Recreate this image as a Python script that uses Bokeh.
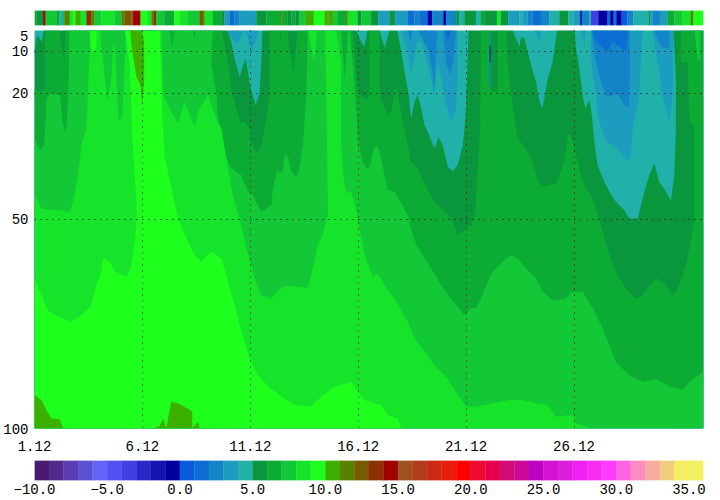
from bokeh.plotting import figure
from bokeh.layouts import column
from bokeh.models import Range1d, FixedTicker, LinearColorMapper, ColumnDataSource
from bokeh.embed import file_html
from bokeh.resources import INLINE

PAL = ["#4A1A6E","#502A8C","#5A3CB0","#5A50D0","#6464FA","#5050F0","#4040E0","#2828C8","#1414B0","#0000A0",
       "#0A5ADC","#0C6ED2","#1484C8","#1C9CBE","#20B2AA","#0A963C","#0CAC34","#12C836","#16E42A","#1EFF1E",
       "#3CB000","#5A8000","#785A00","#8C3000","#A00000","#A0501E","#B43C1E","#CC2814","#E61E0A","#FF0000",
       "#F00A32","#E6004C","#D20A78","#C80A96","#C000C0","#D214D2","#DC1EDC","#F020F0","#F82CF0","#FF3CFF",
       "#FF64E0","#FF8CC0","#F8ACA0","#F4CC80","#F2F060","#F2F060"]
FONT = "Liberation Mono"
FSIZE = "14px"

day_ticks = [1, 6, 11, 16, 21, 26]
day_labels = ["1.12", "6.12", "11.12", "16.12", "21.12", "26.12"]
depth_ticks = [5, 10, 20, 50, 100]
bar_ticks = [-10, -5, 0, 5, 10, 15, 20, 25, 30, 35]
bar_labels = ["\u221210.0", "\u22125.0", "0.0", "5.0", "10.0", "15.0", "20.0", "25.0", "30.0", "35.0"]

strip_start = [1.00,1.09,1.40,1.52,2.02,2.17,2.33,2.40,2.64,2.79,2.90,3.15,3.41,3.64,3.79,4.09,4.70,5.03,5.18,5.48,5.57,5.92,6.26,6.42,6.52,6.65,7.02,7.48,7.73,8.11,8.65,8.81,8.89,9.27,9.66,9.81,10.04,10.27,10.51,11.28,11.74,12.44,12.51,12.74,12.90,13.10,13.28,13.56,13.95,14.44,14.58,14.63,14.87,15.06,15.44,15.52,15.98,16.14,16.60,16.94,17.45,17.71,18.30,18.61,18.84,19.23,19.43,19.95,20.07,20.54,20.69,20.92,21.46,21.69,21.88,22.43,22.62,22.96,23.47,23.62,23.85,24.09,24.47,24.86,25.32,25.74,25.98,26.29,26.37,26.71,26.79,27.13,27.56,27.68,27.84,27.97,28.21,28.48,28.75,29.46,29.53,29.64,29.98,30.34,30.65,31.03,31.42,31.54]
strip_temp = [6,5,14,7,6,4,6,11,8,9,10,8,13,11,7,8,7,11,12,15,14,9,8,11,13,7,6,9,8,7,12,11,8,6,5,3,1,2,3,5,6,11,6,5,6,5,7,10,9,10,11,10,7,6,11,8,5,7,5,3,5,3,1,2,1,-1,2,-1,2,5,4,5,4,6,5,8,5,3,4,3,2,1,2,4,5,4,3,-1,2,4,-4,-1,1,-1,1,-1,0,2,4,5,3,2,3,6,7,8,11,9]

iso5_day = [1.00,1.12,1.34,1.43,9.94,10.12,10.27,10.51,10.66,10.78,10.89,11.05,11.25,11.43,11.51,11.56,15.91,16.06,16.26,16.37,16.42,16.99,17.22,17.45,17.81,17.99,18.15,18.33,18.45,18.61,18.76,18.92,19.07,19.23,19.46,19.56,19.72,19.92,20.15,20.38,20.61,20.85,21.00,21.11,23.16,23.47,23.55,23.70,24.01,24.24,24.40,24.52,24.63,24.78,25.01,25.21,26.02,26.09,26.25,26.40,26.52,26.71,26.83,26.94,27.09,27.40,27.64,27.94,28.33,28.56,28.95,29.10,29.26,29.49,29.72,29.95,30.26,30.49,30.65,30.72,30.72,30.61,32]
iso5_dep = [9.7,6.1,7.7,5,5,7.7,11.7,16.1,13.3,11.7,14.9,19.6,22.8,20.0,12.5,5,5,6.9,8.9,6.9,5,5,9.1,5,5,10.1,14.9,20.0,26.0,22.0,20.4,23.6,27.6,29.2,32.4,33.0,30.4,32.4,37.5,38.6,37.1,32.4,23.6,5,5,8.9,6.5,6.9,13.3,17.3,22.0,23.6,21.2,16.5,12.5,5,5,9.3,14.1,20.4,23.6,21.6,25.2,31.6,37.1,41.1,43.5,45.9,47.9,49.9,49.9,46.7,43.5,39.5,36.7,41.1,43.5,45.5,39.5,28.4,16.5,5,5]

iso6_day = [1.00,1.25,1.48,1.48,2.17,2.33,2.45,9.69,9.81,9.97,10.12,10.35,10.55,10.74,10.97,11.02,11.28,11.51,11.74,11.90,11.90,12.36,12.40,12.44,12.71,12.90,13.01,13.13,13.18,15.75,15.91,16.02,16.22,16.45,16.52,16.52,16.99,16.99,17.22,17.37,17.53,17.68,17.76,17.84,18.07,18.30,18.45,18.76,18.92,19.53,20.31,20.61,21.02,21.23,21.40,21.46,21.65,21.69,22.16,22.16,22.47,22.47,22.85,22.93,23.08,23.24,23.39,23.78,24.09,24.32,24.55,24.78,25.17,25.55,25.75,25.94,26.17,26.40,26.86,27.17,27.40,27.64,27.94,28.41,28.87,29.18,29.64,29.87,30.26,30.57,30.88,31.19,31.49,31.57,31.57,31.34,31.26,30.95,30.95,32]
iso6_dep = [18.8,19.6,18.8,5,5,11.9,5,5,8.5,12.5,18.8,23.6,27.2,26.8,28.4,31.6,34.4,32.4,26.0,19.6,5,5,8.5,5,5,11.9,14.9,8.5,5,5,16.5,19.6,21.2,21.4,19.6,5,5,20.0,23.6,25.2,24.4,19.6,18.1,20.4,26.8,32.4,36.3,37.9,39.9,45.9,49.9,53.8,52.3,51.5,49.1,45.1,28.4,5,5,19.6,19.6,5,5,12.5,20.4,26.0,30.8,33.2,36.3,40.7,42.3,41.9,41.5,36.3,29.2,31.6,36.3,41.1,45.1,49.9,54.6,58.6,62.6,66.6,69.0,68.2,65.0,64.2,65.8,68.2,65.8,61.0,53.1,50.7,27.6,26.8,12.5,12.5,5,5]

iso7_day = [1.00,1.25,1.45,1.56,1.71,2.17,2.33,2.45,2.53,2.59,2.62,7.27,7.37,7.50,8.33,8.41,8.48,9.27,9.19,9.43,9.50,9.58,9.73,9.89,10.12,10.58,10.89,11.12,11.51,11.74,11.97,12.05,12.23,12.51,12.59,12.74,12.90,13.13,13.28,13.44,13.59,13.67,15.21,15.37,15.52,15.60,15.75,15.91,15.98,16.22,16.37,16.52,16.68,16.83,16.99,17.22,17.37,17.68,17.91,18.30,18.45,18.69,19.38,19.84,20.31,20.92,21.23,21.46,21.69,21.93,22.23,22.70,23.08,23.39,23.78,24.24,24.55,25.01,25.63,25.86,26.40,26.86,27.33,27.94,28.56,29.18,29.80,30.41,31.03,31.49,32]
iso7_dep = [30.8,33.6,32.4,21.2,20.0,20.4,27.6,29.3,24.4,16.5,5,5,8.9,5,5,6.9,5,5,12.5,20.4,26.0,28.4,32.4,35.5,37.9,39.5,43.5,44.3,48.3,47.5,46.7,42.7,38.7,38.7,34.8,34.8,38.7,39.9,37.9,32.4,20.4,5,5,16.5,5,5,12.5,24.4,31.6,36.3,37.9,37.9,33.9,32.4,33.9,39.5,43.1,43.5,45.5,49.1,52.3,56.2,61.8,65.8,69.0,72.9,71.3,71.3,69.0,65.8,62.6,60.2,58.6,59.4,61.8,64.2,67.4,69.4,69.0,67.4,67.4,71.3,76.1,84.1,87.3,88.9,88.1,90.0,90.8,88.1,86.5]

iso8_day = [1.00,1.32,1.79,2.25,2.64,2.79,3.02,3.18,3.33,3.39,3.52,3.61,4.02,4.38,4.56,4.64,4.72,4.90,5.06,5.18,5.26,6.88,6.96,7.34,7.65,7.96,8.42,8.58,9.04,9.19,9.43,9.66,9.97,10.12,10.35,10.58,10.74,10.81,11.05,11.28,11.51,11.97,12.28,12.59,13.67,13.90,14.13,14.36,14.47,14.60,14.52,14.47,14.98,15.21,15.21,15.29,15.40,15.52,15.68,15.91,16.06,16.29,16.68,16.91,17.22,17.68,18.30,18.61,19.07,19.53,20.15,20.61,21.02,21.46,22.23,23.01,23.62,24.24,24.78,25.17,25.94,26.09,26.86]
iso8_dep = [44.3,47.5,47.9,47.9,48.3,45.9,39.5,32.4,29.3,29.6,14.1,5,5,22.0,16.5,8.5,8.5,26.4,26.0,12.5,5,5,20.4,24.4,27.2,22.0,28.0,24.4,20.4,22.8,26.0,28.4,37.9,42.7,47.5,51.5,55.4,57.0,61.4,65.4,68.2,69.0,67.0,65.9,66.4,61.8,56.2,53.8,51.5,49.1,20.4,5,5,12.5,32.4,38.7,42.7,43.9,43.5,47.9,52.3,58.6,63.8,63.0,65.8,69.0,74.5,78.5,81.7,84.9,88.1,92.0,94.8,94.8,94.0,93.2,93.2,94.0,94.4,97.2,96.8,98.8,100]

iso9_day = [1.00,1.32,1.63,2.10,2.71,3.18,3.64,3.87,4.10,4.18,4.49,4.72,5.26,5.49,5.65,5.74,5.72,5.61,5.52,5.44,5.41,5.18,6.80,6.85,6.91,7.03,7.34,7.65,8.11,8.42,8.73,9.19,9.66,9.97,10.27,10.58,11.05,11.35,11.82,12.44,13.05,13.82,14.29,14.90,15.68,15.98,16.29,17.06,17.37,17.84,17.99]
iso9_dep = [64.2,68.2,72.1,73.3,74.5,72.9,70.6,65.8,62.6,59.4,60.2,62.6,63.8,61.0,55.4,49.9,45.9,36.3,28.4,16.5,12.5,5,5,12.5,24.4,34.8,42.7,49.9,55.4,58.6,60.2,57.8,59.4,65.0,70.6,76.9,84.5,87.3,90.0,92.4,94.4,94.8,92.4,90.0,88.9,91.2,93.2,94.4,96.8,97.6,100]

# warm pockets: (day list, depth list, temperature class)
warm_day = [[1.00,1.32,1.55,1.79,2.17,2.33,2.79,1.00],
            [6.49,6.80,6.96,7.11,7.19,7.34,7.65,8.11,8.31,8.31,8.58,8.65,9.50],
            [5.44,5.49,5.61,5.72,5.92,5.98,6.02,6.08,6.08,5.98],
            [3.56,3.60,3.75,3.87,3.87],
            [13.67,13.95,14.10],
            [31.57,31.73,31.84,31.84]]
warm_dep = [[92.0,93.2,95.6,97.6,97.8,99.9,100,100],
            [100,99.4,97.6,99.9,97.6,93.6,94.0,95.2,96.0,99.9,98.4,99.9,100],
            [5,8.5,12.5,16.1,18.1,23.0,20.4,17.3,7.7,5],
            [5,9.0,10.1,9.0,5],
            [5,12.5,5],
            [5,11.7,12.0,5]]
warm_class = [10, 10, 10, 9, 8, 7]

cold_day = [[9.97,10.35,10.74],[10.78,11.05,11.39],
            [17.99,18.30,18.45,18.61,18.76,18.92,19.15,19.38,19.50,19.61,19.69,19.84,20.07,20.31,20.54,20.61,20.61],
            [24.16,24.40,24.47],[26.32,26.48,26.56],
            [26.79,26.79,27.02,27.17,27.48,27.94,28.25,28.48,28.64,28.72,28.87,29.02,29.10,29.18],
            [29.64,29.87,30.10,30.41,30.57,30.60],
            [18.30,18.42,18.53],[18.76,19.23,19.46,19.52,19.61,19.69],[19.92,20.07,20.26,20.41,20.54],
            [26.79,27.02,27.25,27.48,27.64,28.02,28.33,28.53,28.59,28.59],[29.72,30.03,30.41,30.41],
            [22.08,22.08,22.14,22.14],
            [26.83,27.02,27.56,27.79,28.41,28.52],[20.00,20.15,20.31],
            [22.09,22.09,22.13,22.13]]
cold_dep = [[5,8.5,5],[5,10.1,5],
            [5,10.1,14.9,11.7,7.7,7.7,11.7,16.5,20.8,16.5,12.5,16.5,22.8,26.8,23.6,14.9,5],
            [5,7.7,5],[5,8.5,5],
            [5,12.5,20.4,26.8,31.6,32.8,34.8,36.3,34.8,28.4,24.4,20.4,12.5,5],
            [5,12.5,20.4,27.2,20.4,5],
            [5,7.7,5],[5,9.3,14.9,19.6,9.3,5],[5,12.5,15.7,12.5,5],
            [5,12.5,17.3,20.4,20.8,20.0,22.8,23.6,16.5,5],[5,8.9,9.3,5],
            [5.5,18.5,18.5,5.5],
            [5,7.7,10.1,7.7,10.1,5],[5,7.7,5],
            [8.5,12.5,12.5,8.5]]
cold_class = [3,3,3,3,3,3,3,2,2,2,2,2,2,1,1,-1]

WIDTH = 720
LEFT = 33
RIGHT = 17
DAYS = Range1d(1, 32)


def bare(fig):
    fig.outline_line_color = None
    fig.grid.visible = False
    fig.axis.visible = False


def style_axis(ax, standoff):
    ax.axis_line_color = None
    ax.major_tick_line_color = None
    ax.minor_tick_line_color = None
    ax.major_tick_in = 0
    ax.major_tick_out = 0
    ax.minor_tick_in = 0
    ax.minor_tick_out = 0
    ax.major_label_text_font = FONT
    ax.major_label_text_font_size = FSIZE
    ax.major_label_text_color = "#000000"
    ax.major_label_standoff = standoff


# surface strip
strip = figure(width=WIDTH, height=30, x_range=DAYS, y_range=Range1d(0, 1),
               toolbar_location=None, output_backend="svg",
               min_border_left=LEFT, min_border_right=RIGHT, min_border_top=10, min_border_bottom=5)
bare(strip)
mapper = LinearColorMapper(palette=PAL, low=-10, high=36)
strip_right = strip_start[1:] + [32]
src = ColumnDataSource(dict(left=strip_start, right=strip_right,
                            t=[v + 0.5 for v in strip_temp]))
strip.quad(left="left", right="right", bottom=0, top=1, source=src,
           fill_color={"field": "t", "transform": mapper},
           line_color={"field": "t", "transform": mapper}, line_width=0.3)

# main section
p = figure(width=WIDTH, height=430, x_range=DAYS, y_range=Range1d(100, 5),
           toolbar_location=None, output_backend="svg",
           min_border_left=LEFT, min_border_right=RIGHT, min_border_top=0, min_border_bottom=32)
p.outline_line_color = None
p.background_fill_color = PAL[14]

levels = [(5, iso5_day, iso5_dep), (6, iso6_day, iso6_dep), (7, iso7_day, iso7_dep),
          (8, iso8_day, iso8_dep), (9, iso9_day, iso9_dep)]
for lev, d, z in levels:
    p.patch(d + [32, 1], z + [100, 100], fill_color=PAL[lev + 10], line_color=None)
for d, z, c in zip(cold_day, cold_dep, cold_class):
    p.patch(d, z, fill_color=PAL[c + 10], line_color=None)
for d, z, c in zip(warm_day, warm_dep, warm_class):
    p.patch(d, z, fill_color=PAL[c + 10], line_color=None)

p.xaxis.ticker = FixedTicker(ticks=day_ticks)
p.xaxis.major_label_overrides = dict(zip(day_ticks, day_labels))
p.yaxis.ticker = FixedTicker(ticks=depth_ticks)
style_axis(p.xaxis[0], 12)
style_axis(p.yaxis[0], 6)
for g in (p.xgrid[0], p.ygrid[0]):
    g.level = "overlay"
    g.grid_line_color = "#000000"
    g.grid_line_width = 1
    g.grid_line_dash = "1 5"

# colour bar
bar = figure(width=WIDTH, height=40, x_range=Range1d(-10, 36), y_range=Range1d(0, 1),
             toolbar_location=None, output_backend="svg",
             min_border_left=LEFT, min_border_right=RIGHT, min_border_top=0, min_border_bottom=20)
bar.outline_line_color = None
bar.grid.visible = False
bar.yaxis.visible = False
lows = list(range(-10, 36))
bar.quad(left=lows, right=[v + 1 for v in lows], bottom=0, top=1, fill_color=PAL, line_color=PAL, line_width=0.3)
bar.xaxis.ticker = FixedTicker(ticks=bar_ticks)
bar.xaxis.major_label_overrides = dict(zip(bar_ticks, bar_labels))
style_axis(bar.xaxis[0], 3)

page = column(strip, p, bar, spacing=0)
open("out.html", "w").write(file_html(page, INLINE))
